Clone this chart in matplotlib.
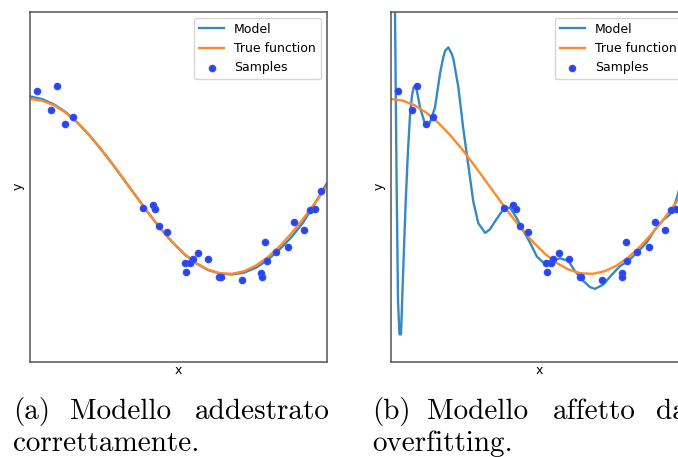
import matplotlib
matplotlib.use("Agg")
from matplotlib import pyplot as plt

# samples
sample_x = [0.023, 0.071, 0.090, 0.119, 0.144, 0.382, 0.413, 0.422, 0.435, 0.462,
            0.522, 0.525, 0.539, 0.548, 0.566, 0.599, 0.637, 0.642, 0.713, 0.778,
            0.780, 0.791, 0.797, 0.829, 0.869, 0.889, 0.923, 0.943, 0.960, 0.979]
sample_y = [1.09, 0.87, 1.15, 0.71, 0.79, -0.25, -0.21, -0.26, -0.45, -0.52,
            -0.87, -0.98, -0.87, -0.83, -0.76, -0.83, -1.03, -1.03, -1.07, -0.99,
            -1.03, -0.63, -0.85, -0.75, -0.69, -0.41, -0.50, -0.27, -0.26, -0.05]

# true function
true_x = [0.00, 0.04, 0.08, 0.12, 0.16, 0.20, 0.24, 0.28, 0.32, 0.36, 0.40, 0.44, 0.48,
          0.52, 0.56, 0.60, 0.64, 0.68, 0.72, 0.76, 0.80, 0.84, 0.88, 0.92, 0.96, 1.00]
true_y = [1.000, 0.982, 0.930, 0.844, 0.729, 0.588, 0.426, 0.249, 0.063, -0.125, -0.309,
          -0.482, -0.637, -0.771, -0.876, -0.951, -0.992, -0.998, -0.969, -0.905, -0.809,
          -0.685, -0.536, -0.368, -0.187, 0.000]

# good model (a)
good_y = [1.03, 1.00, 0.94, 0.85, 0.73, 0.585, 0.42, 0.245, 0.06, -0.125, -0.31,
          -0.485, -0.64, -0.775, -0.88, -0.955, -0.995, -1.005, -0.985, -0.93, -0.84,
          -0.72, -0.58, -0.41, -0.19, 0.04]

# overfitted model (b)
over_x = [0.000, 0.008, 0.0145, 0.0195, 0.0246, 0.0296, 0.0347, 0.0424, 0.0505, 0.0582,
          0.065, 0.0717, 0.077, 0.084, 0.093, 0.099, 0.116, 0.132, 0.149, 0.166,
          0.176, 0.183, 0.194, 0.205, 0.211, 0.228, 0.244, 0.261, 0.278, 0.295,
          0.318, 0.334, 0.351, 0.379, 0.402, 0.424, 0.447, 0.469, 0.492, 0.514,
          0.542, 0.570, 0.598, 0.621, 0.649, 0.671, 0.688, 0.716, 0.744, 0.772,
          0.800, 0.828, 0.862, 0.890, 0.918, 0.940, 0.957, 0.967, 0.985, 1.000]
over_y = [8.0, 4.0, 2.0, 0.18, -1.31, -1.69, -1.69, -0.93, -0.17, 0.41,
          0.81, 1.04, 1.13, 1.16, 1.01, 0.90, 0.71, 0.73, 0.90, 1.29,
          1.46, 1.55, 1.59, 1.52, 1.46, 1.13, 0.67, 0.25, -0.17, -0.42,
          -0.53, -0.49, -0.40, -0.26, -0.24, -0.36, -0.51, -0.64, -0.80, -0.87,
          -0.85, -0.82, -0.85, -0.97, -1.08, -1.15, -1.17, -1.12, -1.01, -0.91,
          -0.85, -0.76, -0.64, -0.49, -0.38, -0.32, -0.20, -0.09, 0.10, 0.30]

fig = plt.figure(figsize=(6.78, 4.57), dpi=100)
W, H = 678.0, 457.0


def panel(left_px, model_x, model_y):
    ax = fig.add_axes([left_px / W, (H - 361.5) / H, 297 / W, 350 / H])
    ax.plot(model_x, model_y, color="#3689c2", lw=1.7, label="Model")
    ax.plot(true_x, true_y, color="#ff8a2b", lw=1.7, label="True function")
    ax.scatter(sample_x, sample_y, s=20, facecolor="#2b45e0", edgecolor="#2f4fff",
               linewidths=1, zorder=3, label="Samples")
    ax.set_xlim(0, 1)
    ax.set_ylim(-2, 2)
    ax.set_xticks([])
    ax.set_yticks([])
    ax.set_xlabel("x", fontsize=9, labelpad=2)
    ax.set_ylabel("y", fontsize=9, labelpad=4)
    for s in ax.spines.values():
        s.set_color("#555555")
        s.set_linewidth(1.1)
    ax.legend(loc="upper right", fontsize=9)
    return ax


panel(30, true_x, good_y)
panel(390.7, over_x, over_y)

cap = dict(fontsize=21, family="cmr10", color="black")
fig.text(12.7 / W, 1 - 419 / H, "(a)", ha="left", va="baseline", **cap)
fig.text(70 / W, 1 - 419 / H, "Modello", ha="left", va="baseline", **cap)
fig.text(329.3 / W, 1 - 419 / H, "addestrato", ha="right", va="baseline", **cap)
fig.text(13 / W, 1 - 451 / H, "correttamente.", ha="left", va="baseline", **cap)

fig.text(372 / W, 1 - 419 / H, "(b)", ha="left", va="baseline", **cap)
fig.text(427 / W, 1 - 419 / H, "Modello", ha="left", va="baseline", **cap)
fig.text(553 / W, 1 - 419 / H, "affetto", ha="left", va="baseline", **cap)
fig.text(656 / W, 1 - 419 / H, "da", ha="left", va="baseline", **cap)
fig.text(372 / W, 1 - 451 / H, "overfitting.", ha="left", va="baseline", **cap)

fig.savefig("out.png", dpi=100)
